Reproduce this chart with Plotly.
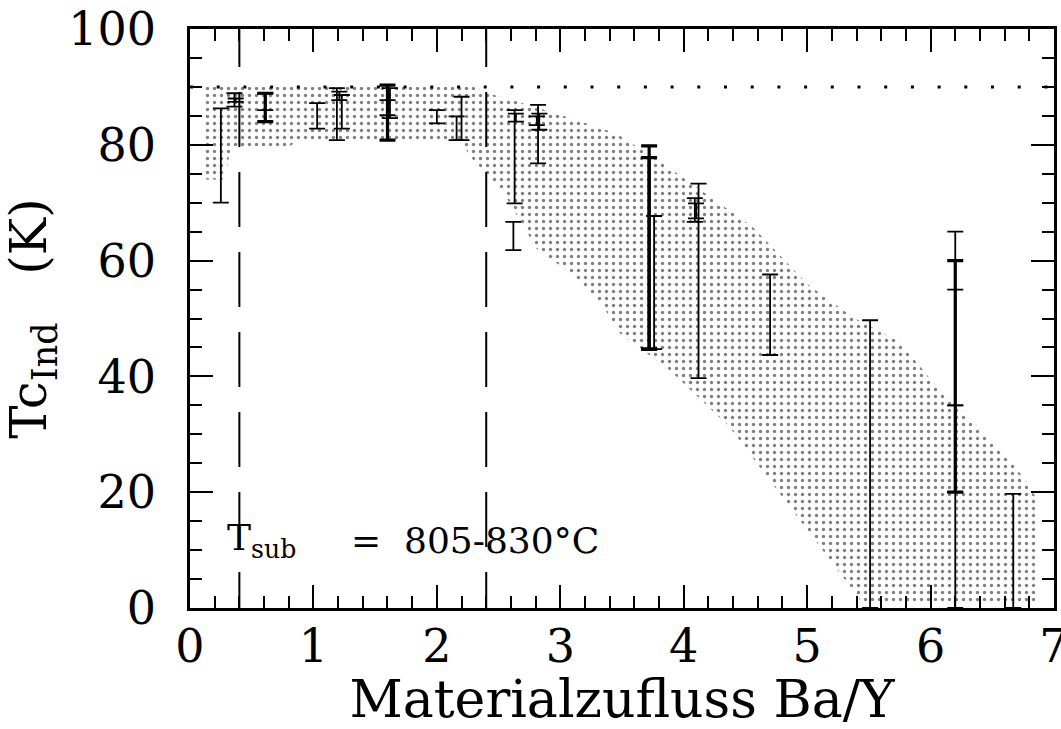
import plotly.graph_objects as go

# --- data -------------------------------------------------------------
# Error bars: position on the Ba/Y axis, lower and upper Tc limits (K)
thick_x = [0.61, 1.60, 3.72, 3.72, 6.20]
thick_lo = [84.0, 80.8, 44.7, 44.7, 20.0]
thick_hi = [88.9, 90.3, 79.8, 77.8, 60.0]

thin_x = [0.25, 0.36, 0.37, 0.61, 1.03, 1.19, 1.23, 1.21, 1.62, 1.60,
          2.00, 2.16, 2.20, 2.63, 2.64, 2.62, 2.82, 2.83, 2.81, 3.76,
          4.12, 4.09, 4.10, 4.70, 5.51, 6.20, 6.20, 6.20, 6.67]
thin_lo = [70.0, 86.6, 87.4, 86.0, 82.8, 80.8, 82.8, 87.7, 84.6, 85.1,
           83.7, 80.8, 80.8, 69.9, 84.0, 61.8, 76.8, 82.6, 83.4, 44.7,
           39.7, 66.7, 67.3, 43.7, 0.0, 35.0, 20.0, 0.0, 0.0]
thin_hi = [86.3, 88.9, 88.0, 88.9, 87.2, 89.8, 88.6, 89.2, 89.8, 87.7,
           86.0, 84.9, 88.3, 86.0, 85.4, 66.7, 86.9, 85.4, 84.9, 67.7,
           73.3, 70.8, 69.9, 57.6, 49.7, 65.0, 55.0, 35.0, 19.7]

# Shaded band (upper edge left->right, then lower edge right->left)
band_upper_x = [0.10, 2.30, 2.40, 2.65, 3.10, 3.45, 3.83, 4.21, 4.56, 5.00,
                5.37, 5.75, 6.02, 6.38, 6.67, 6.87, 6.87]
band_upper_y = [90.0, 90.0, 89.0, 87.5, 84.5, 82.0, 76.8, 71.0, 65.8, 56.0,
                50.2, 46.0, 39.0, 31.3, 25.0, 18.6, 0.8]
band_lower_x = [5.45, 4.37, 3.89, 3.48, 3.35, 3.08, 2.81, 2.54, 2.27, 2.20,
                0.85, 0.80, 0.33, 0.28, 0.12, 0.10]
band_lower_y = [0.8, 31.3, 41.0, 47.5, 52.0, 57.9, 62.0, 71.7, 78.0, 80.5,
                80.5, 79.5, 79.5, 74.0, 74.0, 90.0]

# Reference lines
tc_limit = 90.0
range_bounds = [0.4, 2.4]

x_ticks = [0, 1, 2, 3, 4, 5, 6, 7]
y_ticks = [0, 20, 40, 60, 80, 100]

FONT = "DejaVu Serif"


def bar_trace(xs, lo, hi, thickness):
    mid = [(a + b) / 2 for a, b in zip(lo, hi)]
    half = [(b - a) / 2 for a, b in zip(lo, hi)]
    return go.Scatter(
        x=xs, y=mid, mode="markers",
        marker=dict(size=1, color="rgba(0,0,0,0)"),
        error_y=dict(type="data", array=half, symmetric=True,
                     color="black", thickness=thickness, width=8),
        showlegend=False, hoverinfo="skip",
    )


fig = go.Figure()

# stippled band
fig.add_trace(go.Scatter(
    x=band_upper_x + band_lower_x,
    y=band_upper_y + band_lower_y,
    mode="lines", line=dict(width=0),
    fill="toself", fillcolor="rgba(255,255,255,0)",
    fillpattern=dict(shape=".", size=7, solidity=0.18,
                     fgcolor="black", bgcolor="rgba(255,255,255,0)"),
    showlegend=False, hoverinfo="skip",
))

# dotted Tc limit line
fig.add_trace(go.Scatter(
    x=[0, 7], y=[tc_limit, tc_limit], mode="lines",
    line=dict(color="black", width=3, dash="3px,23.7px"),
    showlegend=False, hoverinfo="skip",
))

# dashed vertical bounds (drawn from just above the frame so the dash phase lines up)
for xb in range_bounds:
    fig.add_trace(go.Scatter(
        x=[xb, xb], y=[102.94, 0], mode="lines",
        line=dict(color="black", width=2, dash="55px,25px"),
        showlegend=False, hoverinfo="skip",
    ))

fig.add_trace(bar_trace(thin_x, thin_lo, thin_hi, 1.8))
fig.add_trace(bar_trace(thick_x, thick_lo, thick_hi, 3.2))

# substrate temperature label
fig.add_annotation(x=0.28, y=11.6, xref="x", yref="y", xanchor="left",
                   yanchor="middle", showarrow=False,
                   text="T<sub>sub</sub>",
                   font=dict(family=FONT, size=36, color="black"))
fig.add_annotation(x=1.29, y=11.6, xref="x", yref="y", xanchor="left",
                   yanchor="middle", showarrow=False,
                   text="=  805-830°C",
                   font=dict(family=FONT, size=36, color="black"))

axis_common = dict(
    showgrid=False, zeroline=False, showline=True, linecolor="black",
    linewidth=2.5, mirror="allticks", ticks="inside", ticklen=23,
    tickwidth=2, tickcolor="black", ticklabeloverflow="allow",
    automargin=False,
    tickfont=dict(family=FONT, size=46, color="black"),
)

fig.update_xaxes(
    range=[0, 7], tickvals=x_ticks, ticktext=[str(v) for v in x_ticks],
    minor=dict(dtick=0.2, ticks="inside", ticklen=12, tickwidth=2,
               tickcolor="black"),
    ticklabelstandoff=-4,
    title=dict(text="Materialzufluss Ba/Y",
               font=dict(family=FONT, size=52, color="black"), standoff=10),
    **axis_common,
)
fig.update_yaxes(
    range=[0, 100], tickvals=y_ticks, ticktext=[str(v) for v in y_ticks],
    minor=dict(dtick=5, ticks="inside", ticklen=12, tickwidth=2,
               tickcolor="black"),
    ticklabelstandoff=22,
    title=dict(text="Tc<sub>Ind</sub>   (K)",
               font=dict(family=FONT, size=50, color="black"), standoff=10),
    **axis_common,
)

fig.update_layout(
    width=1061, height=729,
    margin=dict(l=190, r=7, t=29, b=121),
    paper_bgcolor="white", plot_bgcolor="white",
    showlegend=False,
)

fig.write_html("out.html")
